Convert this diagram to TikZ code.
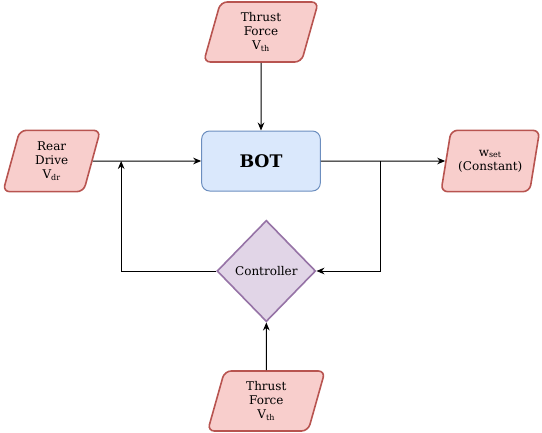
\documentclass[tikz,border=0pt]{standalone}
\usepackage{fontspec}
\setmainfont{DejaVu Serif}
\usetikzlibrary{shapes.geometric,arrows,arrows.meta,positioning}
\definecolor{ioFill}{HTML}{F8CECC}
\definecolor{ioLine}{HTML}{B85450}
\definecolor{botFill}{HTML}{DAE8FC}
\definecolor{botLine}{HTML}{6C8EBF}
\definecolor{ctrlFill}{HTML}{E1D5E7}
\definecolor{ctrlLine}{HTML}{9673A6}

\begin{document}
\begin{tikzpicture}[node distance=2.5cm, auto, >={Stealth[length=6pt,width=5pt]}, line width=0.75pt,
    io/.style={draw=ioLine, fill=ioFill, line width=1.2pt, trapezium, trapezium left angle=68, trapezium right angle=112, trapezium stretches body, rounded corners=5pt, align=center, inner sep=1pt, font=\fontsize{9}{10.5}\selectfont}]
        \useasboundingbox (-195.75pt,-203.25pt) rectangle (210.75pt,120.75pt);
        \node[draw=botLine, fill=botFill, rectangle, rounded corners=6pt, minimum width=89pt, minimum height=45pt, font=\fontsize{13}{15}\selectfont\bfseries] (bot) at (0,0) {BOT};
        \node[io, above of=bot, node distance=96.75pt, minimum width=86pt, minimum height=45pt] (thrustTop) {Thrust\\Force\\V\textsubscript{th}};
        \node[io, left of=bot, node distance=157pt, minimum width=73pt, minimum height=46pt] (rear) {Rear\\Drive\\V\textsubscript{dr}};
        \node[io, right of=bot, node distance=172pt, minimum width=74pt, minimum height=46pt] (wset) {w\textsubscript{set}\\(Constant)};
        \node[draw=ctrlLine, fill=ctrlFill, diamond, line width=1.2pt, below of=bot, node distance=82.5pt, xshift=4pt, minimum width=74pt, minimum height=76pt, inner sep=1pt, font=\fontsize{9}{10.5}\selectfont] (ctrl) {Controller};
        \node[io, below of=ctrl, node distance=97.5pt, minimum width=88pt, minimum height=45pt] (thrustBot) {Thrust\\Force\\V\textsubscript{th}};
        \coordinate[left=60pt of bot.west] (joinL);
        \coordinate[right=45pt of bot.east] (joinR);

        \draw[->] (thrustTop) -- (bot);
        \draw[->] (rear) -- (bot);
        \draw[->] (bot) -- (wset);
        \draw[->] (ctrl.west) -| (joinL);
        \draw[->] (joinR) |- (ctrl.east);
        \draw[->] (thrustBot) -- (ctrl);
    \end{tikzpicture}
\end{document}
